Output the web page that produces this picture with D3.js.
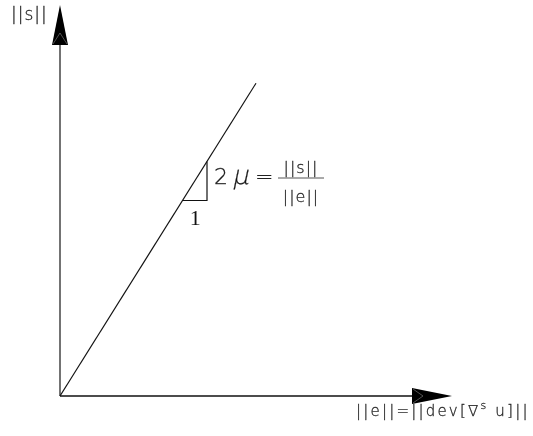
<!DOCTYPE html>
<html>
<head>
<meta charset="utf-8">
<script src="https://cdn.jsdelivr.net/npm/d3@7"></script>
<style>
  html, body { margin: 0; padding: 0; background: #fff; }
  svg { display: block; will-change: transform; }
  text { font-family: "DejaVu Sans", sans-serif; font-weight: 200; fill: #111; stroke: #333; stroke-width: 0.3px; }
</style>
</head>
<body>
<svg id="chart" width="533" height="436"></svg>
<script>
// Linear elastic deviatoric response: ||s|| = 2 mu ||e||
const axisExtent = [0, 4];          // both axes run from 0 to 4 units
const slope2mu = [1.6];             // 2 mu
const lineX = [0, 2];               // extent of the response line along ||e||
const triangleX = [1.25, 1.5];      // run of the slope triangle

const xLabel = "||e||=||dev[\u2207";
const xLabelSup = "s";
const xLabelTail = "u]||";
const yLabel = "||s||";

const svg = d3.select("#chart");
const x = d3.scaleLinear().domain(axisExtent).range([60, 452]);
const y = d3.scaleLinear().domain(axisExtent).range([396, 5]);

const mu2 = slope2mu[0];
const linePts = lineX.map(v => [v, mu2 * v]);

// Axes (drawn as lines ending in solid arrowheads)
const arrowLen = 40, arrowHalf = 8;
svg.append("line")
  .attr("x1", x(0)).attr("y1", y(0))
  .attr("x2", x(0)).attr("y2", y(axisExtent[1]) + arrowLen)
  .attr("stroke", "#444").attr("stroke-width", 1.5);
svg.append("line")
  .attr("x1", x(0)).attr("y1", y(0))
  .attr("x2", x(axisExtent[1]) - arrowLen).attr("y2", y(0))
  .attr("stroke", "#111").attr("stroke-width", 1.5);

// y arrowhead
const ty = y(axisExtent[1]);
svg.append("path")
  .attr("d", `M${x(0)},${ty} L${x(0) - arrowHalf},${ty + arrowLen} L${x(0) + arrowHalf},${ty + arrowLen} Z`)
  .attr("fill", "#000");
svg.append("path")
  .attr("d", `M${x(0) - arrowHalf + 1},${ty + arrowLen - 1} L${x(0)},${ty + arrowLen - 12} L${x(0) + arrowHalf - 1},${ty + arrowLen - 1}`)
  .attr("fill", "none").attr("stroke", "#888").attr("stroke-width", 0.6);

// x arrowhead
const tx = x(axisExtent[1]);
svg.append("path")
  .attr("d", `M${tx},${y(0)} L${tx - arrowLen},${y(0) - arrowHalf} L${tx - arrowLen},${y(0) + arrowHalf} Z`)
  .attr("fill", "#000");
svg.append("path")
  .attr("d", `M${tx - arrowLen + 1},${y(0) - arrowHalf + 1} L${tx - arrowLen + 11},${y(0)} L${tx - arrowLen + 1},${y(0) + arrowHalf - 1}`)
  .attr("fill", "none").attr("stroke", "#888").attr("stroke-width", 0.6);

// Response line
svg.append("path")
  .datum(linePts)
  .attr("d", d3.line().x(d => x(d[0])).y(d => y(d[1])))
  .attr("fill", "none").attr("stroke", "#111").attr("stroke-width", 1.2);

// Slope triangle
const [t0, t1] = triangleX;
svg.append("path")
  .attr("d", `M${x(t0)},${y(mu2 * t0)} L${x(t1)},${y(mu2 * t0)} L${x(t1)},${y(mu2 * t1)}`)
  .attr("fill", "none").attr("stroke", "#111").attr("stroke-width", 1.2);

svg.append("text")
  .attr("x", (x(t0) + x(t1)) / 2 + 0.5).attr("y", y(mu2 * t0) + 24)
  .attr("text-anchor", "middle")
  .style("font-family", "'Liberation Serif', serif")
  .style("font-weight", "400")
  .style("stroke-width", "0")
  .style("font-size", "22px")
  .text("1");

// 2 mu = ||s|| / ||e||
const lx = x(t1) + 7, ly = y(mu2 * t0) - 17;
svg.append("text").attr("x", lx).attr("y", ly)
  .style("font-size", "22px").text("2");
svg.append("text")
  .attr("transform", `translate(${lx + 18},${ly}) skewX(-12)`)
  .style("font-size", "26px").text("\u03bc");
svg.append("text").attr("x", lx + 41).attr("y", ly)
  .style("font-size", "22px").text("=");
const fracX = 301;
svg.append("line")
  .attr("x1", fracX - 23).attr("x2", fracX + 23)
  .attr("y1", 178).attr("y2", 178)
  .attr("stroke", "#555").attr("stroke-width", 1);
svg.append("text").attr("x", fracX).attr("y", 173)
  .attr("text-anchor", "middle").style("font-size", "16px").style("letter-spacing", "1px").text("||s||");
svg.append("text").attr("x", fracX).attr("y", 202)
  .attr("text-anchor", "middle").style("font-size", "16px").style("letter-spacing", "1px").text("||e||");

// Axis titles
svg.append("text").attr("x", 11).attr("y", 20)
  .style("font-size", "17px").style("letter-spacing", "1px").text(yLabel);

const xl = svg.append("text").attr("x", 356).attr("y", 416)
  .style("font-size", "15px").style("letter-spacing", "2.2px");
xl.append("tspan").text(xLabel);
xl.append("tspan").attr("dy", -7).style("font-size", "11px").text(xLabelSup);
xl.append("tspan").attr("dy", 7).text(" " + xLabelTail);
</script>
</body>
</html>
